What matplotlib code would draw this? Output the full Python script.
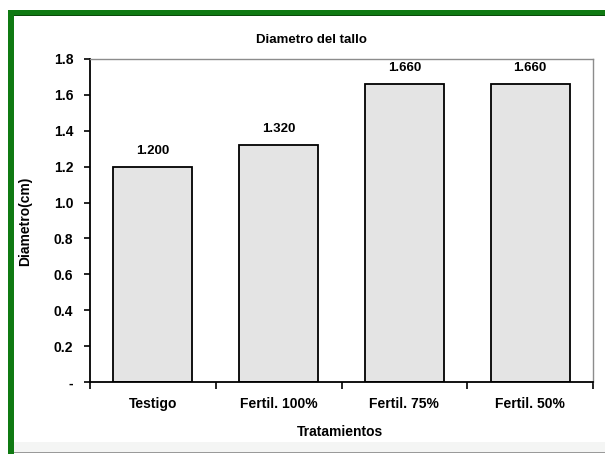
import matplotlib
matplotlib.use("Agg")
import matplotlib.pyplot as plt
from matplotlib.patches import Rectangle

# data
categories = ["Testigo", "Fertil. 100%", "Fertil. 75%", "Fertil. 50%"]
diametro = [1.200, 1.320, 1.660, 1.660]
y_ticks = [0, 0.2, 0.4, 0.6, 0.8, 1.0, 1.2, 1.4, 1.6, 1.8]
y_tick_labels = ["-", "0.2", "0.4", "0.6", "0.8", "1.0", "1.2", "1.4", "1.6", "1.8"]

W, H = 605, 454
plt.rcParams['font.family'] = ['Liberation Sans Narrow', 'Liberation Sans', 'DejaVu Sans']
plt.rcParams['font.weight'] = 'bold'

fig = plt.figure(figsize=(W / 100, H / 100), dpi=100)
fig.patch.set_facecolor("white")


def px(x0, y0, w, h):
    # pixel box (top-left origin) -> figure fraction
    return [x0 / W, 1 - (y0 + h) / H, w / W, h / H]


# frame decoration
fig.patches.append(Rectangle((14 / W, 1 - 452 / H), 591 / W, 10 / H, transform=fig.transFigure,
                             facecolor="#f4f5f4", edgecolor="none", zorder=0))
fig.patches.append(Rectangle((14 / W, 1 - 453 / H), 591 / W, 1.5 / H, transform=fig.transFigure,
                             facecolor="#9a9a9a", edgecolor="none", zorder=1))
fig.patches.append(Rectangle((8 / W, 0), 6 / W, 1 - 10 / H, transform=fig.transFigure,
                             facecolor="#0f7a12", edgecolor="none", zorder=2))
fig.patches.append(Rectangle((8 / W, 1 - 16 / H), (W - 8) / W, 6 / H, transform=fig.transFigure,
                             facecolor="#0f7a12", edgecolor="none", zorder=2))
fig.patches.append(Rectangle((14 / W, 1 - 16 / H), (W - 14) / W, 1.2 / H, transform=fig.transFigure,
                             facecolor="#0a4a0a", edgecolor="none", zorder=3))

ax = fig.add_axes(px(90, 59, 503, 323))
x = range(len(categories))
bars = ax.bar(x, diametro, width=0.63, color="#e4e4e4", edgecolor="black", linewidth=1.3, zorder=2)
for xi, v in zip(x, diametro):
    ax.text(xi, v + 0.055, "{:.3f}".format(v), ha="center", va="bottom", fontsize=9.5, fontweight="bold")

ax.set_xlim(-0.5, 3.5)
ax.set_ylim(0, 1.8)
ax.set_yticks(y_ticks)
ax.set_yticklabels(y_tick_labels, fontsize=10, fontweight="bold")
ax.set_xticks(list(x))
ax.set_xticklabels(categories, fontsize=10, fontweight="bold")
ax.set_xticks([-0.5, 0.5, 1.5, 2.5, 3.5], minor=True)
ax.tick_params(axis="x", which="major", length=0, pad=11)
ax.tick_params(axis="x", which="minor", length=5, width=1.2, direction="out")
ax.tick_params(axis="y", length=4, width=1.2, direction="out", pad=8)

for s in ["top", "right"]:
    ax.spines[s].set_color("#8c8c8c")
    ax.spines[s].set_linewidth(1.0)
for s in ["left", "bottom"]:
    ax.spines[s].set_color("black")
    ax.spines[s].set_linewidth(1.3)

fig.text(311 / W, 1 - 40 / H, "Diametro del tallo", ha="center", va="center", fontsize=9.5, fontweight="bold")
fig.text(25 / W, 1 - 221 / H, "Diametro(cm)", ha="center", va="center", rotation=90,
         fontsize=10, fontweight="bold")
fig.text(340 / W, 1 - 432 / H, "Tratamientos", ha="center", va="center", fontsize=10, fontweight="bold")

fig.savefig("out.png", dpi=100)
